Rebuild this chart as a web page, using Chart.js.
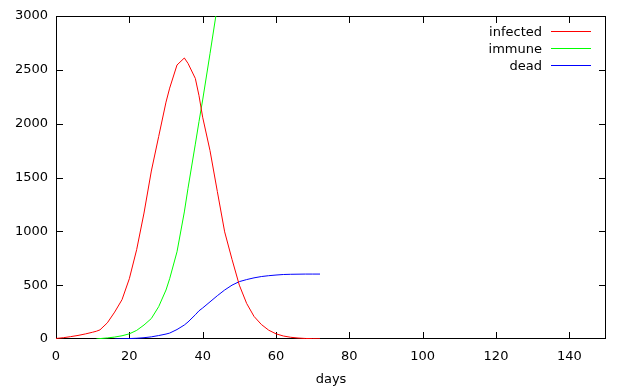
<!DOCTYPE html>
<html>
<head>
<meta charset="utf-8">
<title>infected / immune / dead</title>
<script src="https://cdn.jsdelivr.net/npm/chart.js@4.4.0/dist/chart.umd.min.js"></script>
<style>
  html, body { margin: 0; padding: 0; background: #fff; }
  canvas { display: block; }
</style>
</head>
<body>
<canvas id="chart" width="625" height="390"></canvas>
<script>
// values, one entry per day in `days`
const days     = [0, 2, 4, 6, 8, 10, 11, 12, 14, 16, 18, 20, 22, 24, 26, 28, 30, 31, 33, 35, 36, 38, 39, 40, 42, 44, 46, 48, 50, 52, 54, 56, 58, 60, 62, 64, 66, 68, 70, 72];
const infected = [5, 12, 22, 33, 47, 63, 72, 85, 150, 250, 365, 560, 830, 1170, 1560, 1880, 2200, 2330, 2545, 2610, 2560, 2420, 2260, 2060, 1750, 1370, 995, 740, 500, 330, 210, 135, 82, 48, 28, 16, 9, 5, 3, 2];
const immune   = [null, null, null, null, null, null, 0, 4, 10, 18, 30, 48, 80, 130, 190, 300, 455, 560, 810, 1180, 1400, 1810, 2020, 2220, 2650, 3090, 3520, null, null, null, null, null, null, null, null, null, null, null, null, null];
const dead     = [null, null, null, null, null, null, null, null, null, 0, 2, 4, 7, 12, 20, 32, 46, 55, 88, 130, 158, 225, 262, 288, 345, 402, 455, 500, 533, 552, 568, 580, 588, 594, 599, 601, 602, 603, 603, 603];

const xTicks = [0, 20, 40, 60, 80, 100, 120, 140];
const yTicks = [0, 500, 1000, 1500, 2000, 2500, 3000];

const FONT = { family: 'DejaVu Sans', size: 13 };

function toPoints(values) {
    return days.map((d, i) => ({ x: d, y: values[i] }));
}

// gnuplot style box with inward ticks on all four sides
const frame = {
    id: 'frame',
    beforeDatasetsDraw(chart) {
        const { ctx, chartArea: a, scales: { x, y } } = chart;
        const L = Math.round(a.left), R = Math.round(a.right);
        const T = Math.round(a.top), B = Math.round(a.bottom);
        const len = 7;
        ctx.save();
        ctx.fillStyle = '#000';
        ctx.fillRect(L, T, R - L, 1);
        ctx.fillRect(L, B - 1, R - L, 1);
        ctx.fillRect(L, T, 1, B - T);
        ctx.fillRect(R - 1, T, 1, B - T);
        xTicks.forEach(v => {
            const px = Math.round(x.getPixelForValue(v));
            ctx.fillRect(px, B - len, 1, len);
            ctx.fillRect(px, T, 1, len);
        });
        yTicks.forEach(v => {
            const py = Math.min(Math.round(y.getPixelForValue(v)), B - 1);
            ctx.fillRect(L, py, len, 1);
            ctx.fillRect(R - len, py, len, 1);
        });
        ctx.restore();
    }
};

// key in the top right corner: label first, then a line sample
const key = {
    id: 'key',
    afterDraw(chart) {
        const ctx = chart.ctx;
        ctx.save();
        ctx.font = `${FONT.size}px "${FONT.family}"`;
        ctx.textAlign = 'right';
        ctx.textBaseline = 'alphabetic';
        chart.data.datasets.forEach((ds, i) => {
            const row = 31 + i * 17;
            ctx.fillStyle = '#000';
            ctx.fillText(ds.label, 542, row + 5);
            ctx.fillStyle = ds.borderColor;
            ctx.fillRect(551, row, 40, 1);
        });
        ctx.restore();
    }
};

const line = (label, values, color) => ({
    label,
    data: toPoints(values),
    borderColor: color,
    borderWidth: 1,
    pointRadius: 0,
    tension: 0,
    fill: false
});

new Chart(document.getElementById('chart').getContext('2d'), {
    type: 'line',
    data: {
        datasets: [
            line('infected', infected, '#ff0000'),
            line('immune', immune, '#00ff00'),
            line('dead', dead, '#0000ff')
        ]
    },
    options: {
        responsive: false,
        animation: false,
        events: [],
        layout: { padding: { top: 16, right: 19, left: 0, bottom: 0 } },
        plugins: {
            legend: { display: false },
            tooltip: { enabled: false }
        },
        scales: {
            x: {
                type: 'linear',
                min: 0,
                max: 150,
                afterBuildTicks: s => { s.ticks = xTicks.map(v => ({ value: v })); },
                afterFit: s => { s.height = 51; },
                grid: { display: false, drawTicks: false },
                border: { display: false },
                ticks: { font: FONT, color: '#000', padding: 10, maxRotation: 0, callback: v => String(v) },
                title: { display: true, text: 'days', font: FONT, color: '#000', padding: { top: 0, bottom: 3 } }
            },
            y: {
                min: 0,
                max: 3000,
                afterBuildTicks: s => { s.ticks = yTicks.map(v => ({ value: v })); },
                afterFit: s => { s.width = 56; },
                grid: { display: false, drawTicks: false },
                border: { display: false },
                ticks: { font: FONT, color: '#000', padding: 8, callback: v => String(v) }
            }
        }
    },
    plugins: [frame, key]
});
</script>
</body>
</html>
